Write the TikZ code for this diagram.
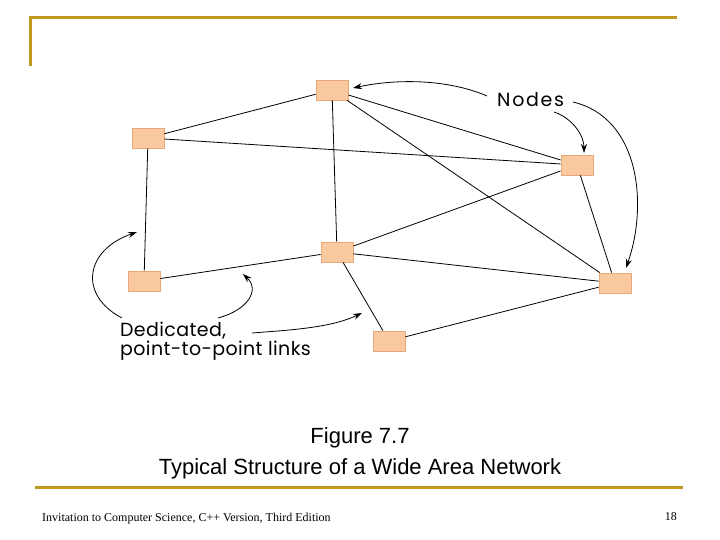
\documentclass[tikz,border=0pt]{standalone}
\usepackage{fontspec}
\setmainfont{Liberation Sans}
\newfontfamily\serifface{Liberation Serif}
\newfontfamily\geowide{Poppins}[LetterSpace=9]
\newfontfamily\geomid{Poppins}[LetterSpace=2]
\usetikzlibrary{arrows.meta}
\definecolor{gold}{RGB}{192,154,32}
\definecolor{peach}{RGB}{251,201,160}
\definecolor{peachedge}{RGB}{232,168,120}
\tikzset{
  wanbox/.style={draw=peachedge, fill=peach, line width=0.8pt, minimum width=32pt, minimum height=20pt, inner sep=0pt},
  link/.style={line width=0.8pt, black},
  callout/.style={line width=0.8pt, black, -{Stealth[length=9pt,width=6pt]}},
  rule/.style={gold, line width=3pt},
  labeltext/.style={font=\geomid\fontsize{19}{16}\selectfont, inner sep=0pt},
  captext/.style={font=\fontsize{22}{24}\selectfont, inner sep=0pt, anchor=base}
}
\begin{document}
\begin{tikzpicture}[x=1pt,y=-1pt]
\useasboundingbox (0,0) rectangle (720,540);
% frame rules
\coordinate (tl) at (30,18);
\coordinate (tr) at (677,18);
\coordinate (lb) at (30,66);
\draw[rule] (lb) -- (tl) -- (tr);
\coordinate (bl) at (35,487);
\coordinate (br) at (683,487);
\draw[rule] (bl) -- (br);
% nodes
\node[wanbox] (A) at (332,90) {};
\node[wanbox] (B) at (148,138) {};
\node[wanbox] (C) at (577,165) {};
\node[wanbox] (D) at (337,252) {};
\node[wanbox] (E) at (144,281) {};
\node[wanbox] (F) at (615,283) {};
\node[wanbox] (G) at (389,341) {};
% links
\draw[link] (A) -- (B);
\draw[link] (A) -- (C);
\draw[link] (A) -- (F);
\draw[link] (A) -- (D);
\draw[link] (B) -- (C);
\draw[link] (B) -- (E);
\draw[link] (C) -- (D);
\draw[link] (C) -- (F);
\draw[link] (D) -- (E);
\draw[link] (D) -- (F);
\draw[link] (D) -- (G);
\draw[link] (G) -- (F);
% labels
\node[labeltext, font=\geowide\fontsize{19}{20}\selectfont, anchor=base west] (nodes) at (497,107) {Nodes};
\node[labeltext, anchor=base west, align=left] (ded) at (120,355) {Dedicated,\\point-to-point links};
% callouts
\coordinate (n1) at (487,96);
\coordinate (n1e) at (353,88);
\draw[callout] (n1) .. controls (450,80) and (400,78) .. (n1e);
\coordinate (n2) at (554,112);
\coordinate (n2e) at (584,153);
\draw[callout] (n2) .. controls (572,118) and (584,135) .. (n2e);
\coordinate (n3) at (573,102);
\coordinate (n3e) at (626,268);
\draw[callout] (n3) .. controls (640,118) and (648,205) .. (n3e);
\coordinate (d1) at (122,318);
\coordinate (d1e) at (137,232);
\draw[callout] (d1) .. controls (78,295) and (85,250) .. (d1e);
\coordinate (d2) at (218,318);
\coordinate (d2e) at (243,274);
\draw[callout] (d2) .. controls (248,310) and (260,290) .. (d2e);
\coordinate (d3) at (252,333);
\coordinate (d3e) at (362,313);
\draw[callout] (d3) .. controls (290,330) and (330,328) .. (d3e);
% caption
\node[captext] (cap1) at (360,443) {Figure 7.7};
\node[captext] (cap2) at (360,474) {Typical Structure of a Wide Area Network};
% footer
\node[font=\serifface\fontsize{12}{13}\selectfont, anchor=base west, inner sep=0pt] (foot) at (42,521) {Invitation to Computer Science, C++ Version, Third Edition};
\node[font=\serifface\fontsize{12}{13}\selectfont, anchor=base east, inner sep=0pt] (page) at (677,520) {18};
\end{tikzpicture}
\end{document}
